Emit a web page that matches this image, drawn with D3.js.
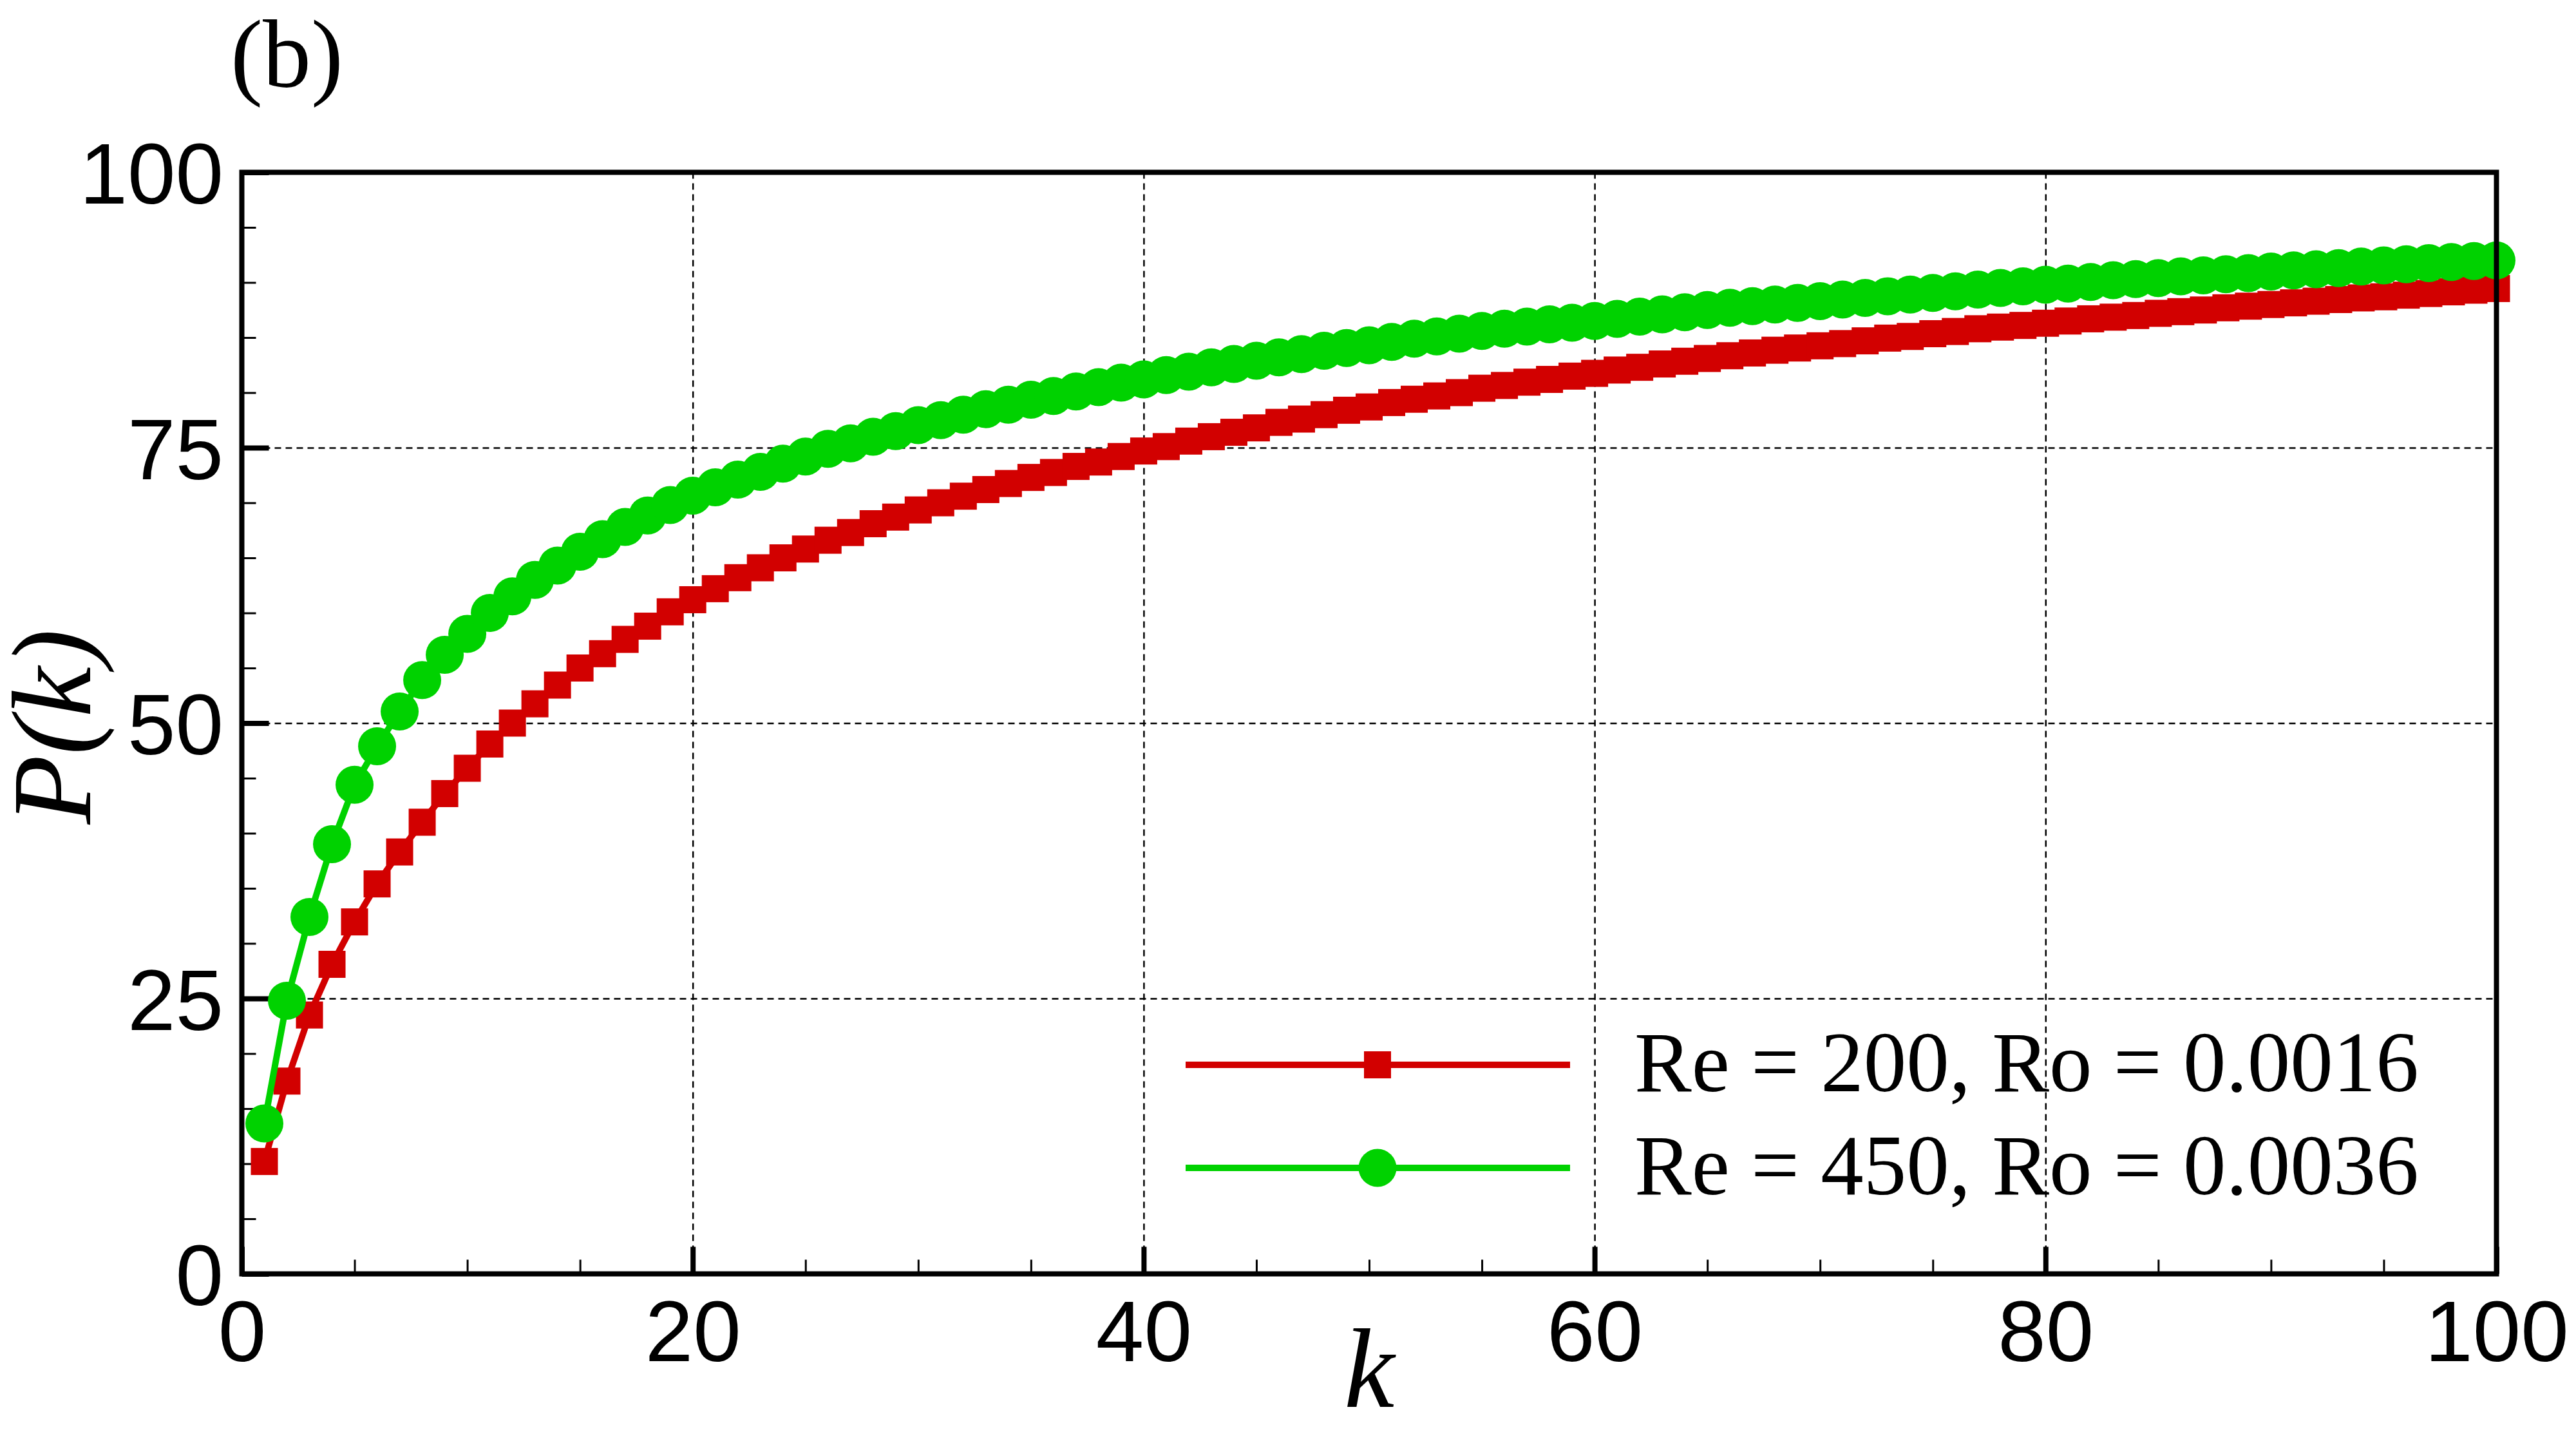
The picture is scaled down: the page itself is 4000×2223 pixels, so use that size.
<!DOCTYPE html>
<html>
<head>
<meta charset="utf-8">
<script src="https://cdn.jsdelivr.net/npm/d3@7"></script>
<style>
  body { margin: 0; background: #fff; }
  svg { display: block; }
</style>
</head>
<body>
<svg id="chart" width="4000" height="2223"></svg>
<script>
// k values (mode number)
const kValues = [1, 2, 3, 4, 5, 6, 7, 8, 9, 10, 11, 12, 13, 14, 15, 16, 17, 18, 19, 20,
    21, 22, 23, 24, 25, 26, 27, 28, 29, 30, 31, 32, 33, 34, 35, 36, 37, 38, 39, 40,
    41, 42, 43, 44, 45, 46, 47, 48, 49, 50, 51, 52, 53, 54, 55, 56, 57, 58, 59, 60,
    61, 62, 63, 64, 65, 66, 67, 68, 69, 70, 71, 72, 73, 74, 75, 76, 77, 78, 79, 80,
    81, 82, 83, 84, 85, 86, 87, 88, 89, 90, 91, 92, 93, 94, 95, 96, 97, 98, 99, 100];

// P(k) for Re = 200, Ro = 0.0016
const pRe200 = [10.2, 17.5, 23.5, 28.1, 31.95, 35.4, 38.3, 41.0, 43.6, 45.9,
    48.1, 50.0, 51.75, 53.45, 55.0, 56.3, 57.6, 58.8, 60.1, 61.2,
    62.2, 63.2, 64.1, 65.0, 65.8, 66.6, 67.3, 68.1, 68.7, 69.35,
    70.0, 70.6, 71.2, 71.75, 72.3, 72.75, 73.3, 73.7, 74.2, 74.7,
    75.1, 75.6, 76.0, 76.4, 76.8, 77.3, 77.6, 78.0, 78.4, 78.7,
    79.1, 79.4, 79.7, 80.0, 80.4, 80.65, 80.95, 81.2, 81.5, 81.75,
    82.05, 82.3, 82.6, 82.85, 83.1, 83.35, 83.6, 83.85, 84.05, 84.25,
    84.45, 84.7, 84.95, 85.1, 85.35, 85.55, 85.8, 85.95, 86.1, 86.3,
    86.5, 86.7, 86.85, 87.0, 87.2, 87.35, 87.5, 87.7, 87.85, 88.0,
    88.15, 88.3, 88.45, 88.6, 88.7, 88.85, 89.0, 89.15, 89.3, 89.45];

// P(k) for Re = 450, Ro = 0.0036
const pRe450 = [13.65, 24.8, 32.4, 39.0, 44.4, 47.9, 51.05, 53.9, 56.2, 58.1,
    60.0, 61.5, 63.0, 64.3, 65.55, 66.7, 67.8, 68.85, 69.8, 70.65,
    71.4, 72.1, 72.8, 73.55, 74.2, 74.9, 75.4, 76.0, 76.5, 77.05,
    77.5, 78.0, 78.5, 78.9, 79.35, 79.7, 80.1, 80.5, 80.9, 81.2,
    81.6, 81.9, 82.3, 82.6, 82.9, 83.2, 83.5, 83.8, 84.05, 84.3,
    84.6, 84.9, 85.1, 85.35, 85.6, 85.8, 86.0, 86.2, 86.35, 86.5,
    86.7, 86.9, 87.1, 87.3, 87.5, 87.7, 87.85, 88.0, 88.15, 88.3,
    88.45, 88.6, 88.75, 88.9, 89.05, 89.2, 89.35, 89.5, 89.65, 89.8,
    89.9, 90.05, 90.2, 90.3, 90.4, 90.55, 90.65, 90.75, 90.85, 91.0,
    91.1, 91.2, 91.3, 91.45, 91.55, 91.65, 91.75, 91.85, 91.95, 92.0];

const xMajorTicks = [0, 20, 40, 60, 80, 100];
const xMinorTicks = [5, 10, 15, 25, 30, 35, 45, 50, 55, 65, 70, 75, 85, 90, 95];
const yMajorTicks = [0, 25, 50, 75, 100];
const yMinorTicks = [5, 10, 15, 20, 30, 35, 40, 45, 55, 60, 65, 70, 80, 85, 90, 95];
const seriesNames = ["Re = 200, Ro = 0.0016", "Re = 450, Ro = 0.0036"];
const seriesColors = ["#d20000", "#00d200"];

const plotLeft = 375.5, plotRight = 3876.5, plotTop = 267.5, plotBottom = 1977.5;
const sansFont = "'Liberation Sans', Arial, sans-serif";
const serifFont = "'Liberation Serif', 'Times New Roman', serif";

const svg = d3.select("#chart");

const x = d3.scaleLinear().domain([0, 100]).range([plotLeft, plotRight]);
const y = d3.scaleLinear().domain([0, 100]).range([plotBottom, plotTop]);

// dashed grid at the interior major ticks
svg.append("g")
    .attr("transform", `translate(0,${plotBottom})`)
    .call(d3.axisBottom(x).tickValues([20, 40, 60, 80]).tickSize(-(plotBottom - plotTop)).tickFormat(""))
    .call(g => g.select(".domain").remove())
    .call(g => g.selectAll("line").attr("stroke", "#000").attr("stroke-width", 2.5).attr("stroke-dasharray", "10,7"));

svg.append("g")
    .attr("transform", `translate(${plotLeft},0)`)
    .call(d3.axisLeft(y).tickValues([25, 50, 75]).tickSize(-(plotRight - plotLeft)).tickFormat(""))
    .call(g => g.select(".domain").remove())
    .call(g => g.selectAll("line").attr("stroke", "#000").attr("stroke-width", 2.5).attr("stroke-dasharray", "10,7"));

// minor ticks
svg.append("g")
    .attr("transform", `translate(0,${plotBottom})`)
    .call(d3.axisBottom(x).tickValues(xMinorTicks).tickSize(-22).tickFormat(""))
    .call(g => g.select(".domain").remove())
    .call(g => g.selectAll("line").attr("stroke", "#000").attr("stroke-width", 3));

svg.append("g")
    .attr("transform", `translate(${plotLeft},0)`)
    .call(d3.axisLeft(y).tickValues(yMinorTicks).tickSize(-22).tickFormat(""))
    .call(g => g.select(".domain").remove())
    .call(g => g.selectAll("line").attr("stroke", "#000").attr("stroke-width", 3));

// major ticks with labels
svg.append("g")
    .attr("transform", `translate(0,${plotBottom})`)
    .call(d3.axisBottom(x).tickValues(xMajorTicks).tickSize(-42).tickFormat(d3.format("d")))
    .call(g => g.select(".domain").remove())
    .call(g => g.selectAll("line").attr("stroke", "#000").attr("stroke-width", 8))
    .call(g => g.selectAll("text")
        .attr("y", 135.5)
        .attr("dy", 0)
        .attr("fill", "#000")
        .style("font-family", sansFont)
        .style("font-size", "134px"));

svg.append("g")
    .attr("transform", `translate(${plotLeft},0)`)
    .call(d3.axisLeft(y).tickValues(yMajorTicks).tickSize(-42).tickFormat(d3.format("d")))
    .call(g => g.select(".domain").remove())
    .call(g => g.selectAll("line").attr("stroke", "#000").attr("stroke-width", 8))
    .call(g => g.selectAll("text")
        .attr("x", -28.5)
        .attr("dy", "0.36em")
        .attr("fill", "#000")
        .style("font-family", sansFont)
        .style("font-size", "134px"));

// curves
const allSeries = [pRe200, pRe450].map((vals, i) => ({
    name: seriesNames[i],
    color: seriesColors[i],
    points: vals.map((v, j) => ({ k: kValues[j], p: v }))
}));

const line = d3.line().x(d => x(d.k)).y(d => y(d.p));

allSeries.forEach((s, i) => {
    svg.append("path")
        .datum(s.points)
        .attr("fill", "none")
        .attr("stroke", s.color)
        .attr("stroke-width", 10)
        .attr("stroke-linejoin", "round")
        .attr("d", line);

    if (i === 0) {
        svg.append("g").selectAll("rect")
            .data(s.points)
            .join("rect")
            .attr("x", d => x(d.k) - 21)
            .attr("y", d => y(d.p) - 21)
            .attr("width", 42)
            .attr("height", 42)
            .attr("fill", s.color);
    } else {
        svg.append("g").selectAll("circle")
            .data(s.points)
            .join("circle")
            .attr("cx", d => x(d.k))
            .attr("cy", d => y(d.p))
            .attr("r", 29.5)
            .attr("fill", s.color);
    }
});

// frame on top
svg.append("rect")
    .attr("x", plotLeft)
    .attr("y", plotTop)
    .attr("width", plotRight - plotLeft)
    .attr("height", plotBottom - plotTop)
    .attr("fill", "none")
    .attr("stroke", "#000")
    .attr("stroke-width", 8);

// legend
const legend = svg.append("g");
allSeries.forEach((s, i) => {
    const ly = 1653 + i * 160;
    legend.append("line")
        .attr("x1", 1841).attr("x2", 2438)
        .attr("y1", ly).attr("y2", ly)
        .attr("stroke", s.color)
        .attr("stroke-width", 10);
    if (i === 0) {
        legend.append("rect")
            .attr("x", 2139 - 21).attr("y", ly - 21)
            .attr("width", 42).attr("height", 42)
            .attr("fill", s.color);
    } else {
        legend.append("circle")
            .attr("cx", 2139).attr("cy", ly)
            .attr("r", 29.5)
            .attr("fill", s.color);
    }
    legend.append("text")
        .attr("x", 2538)
        .attr("y", ly + 41)
        .style("font-family", serifFont)
        .style("font-size", "133px")
        .text(s.name);
});

// axis titles
svg.append("text")
    .attr("x", x(50))
    .attr("y", 2184)
    .attr("text-anchor", "middle")
    .style("font-family", serifFont)
    .style("font-style", "italic")
    .style("font-size", "176px")
    .text("k");

svg.append("text")
    .attr("transform", `translate(140,1128) rotate(-90)`)
    .attr("text-anchor", "middle")
    .style("font-family", serifFont)
    .style("font-style", "italic")
    .style("font-size", "176px")
    .text("P(k)");

// panel label
svg.append("text")
    .attr("x", 358)
    .attr("y", 135)
    .style("font-family", serifFont)
    .style("font-size", "150px")
    .text("(b)");
</script>
</body>
</html>
